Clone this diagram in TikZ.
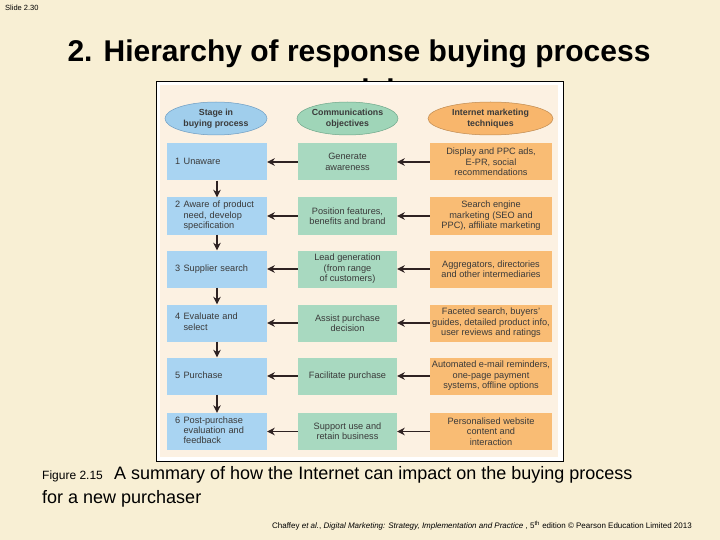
\documentclass[tikz,border=0pt]{standalone}
\usepackage{fontspec}
\setmainfont{Liberation Sans}
\usetikzlibrary{arrows.meta,shapes.geometric}
\definecolor{slidebg}{HTML}{F8EFD4}
\definecolor{figbg}{HTML}{FCF1E2}
\definecolor{bluec}{HTML}{A9D4F2}
\definecolor{bluee}{HTML}{A0CEEC}
\definecolor{blueb}{HTML}{6D9CC2}
\definecolor{greenc}{HTML}{A8D9C0}
\definecolor{greene}{HTML}{9FD5B8}
\definecolor{greenb}{HTML}{6EA78A}
\definecolor{orangec}{HTML}{F9BC74}
\definecolor{orangee}{HTML}{F8B66C}
\definecolor{orangeb}{HTML}{BF8A50}
\definecolor{figtext}{HTML}{3A3A3A}
\definecolor{arrc}{HTML}{2E2222}
\newcommand\figfont{\fontsize{9.2}{10.4}\selectfont}
\newcommand\ellfont{\fontsize{8.8}{10.8}\selectfont\bfseries}
\tikzset{
  box/.style={draw=none, minimum height=37pt, inner sep=1pt, font=\figfont, text=figtext, align=center},
  bluebox/.style={box, fill=bluec, minimum width=100pt, text width=84pt, align=left},
  greenbox/.style={box, fill=greenc, minimum width=99pt},
  orangebox/.style={box, fill=orangec, minimum width=122pt},
  ell/.style={ellipse, inner sep=0pt, minimum height=33pt, font=\ellfont, text=figtext, align=center, line width=0.5pt},
  arr/.style={draw=arrc, line width=1.7pt, -{Stealth[length=7.5pt,width=7.5pt]}},
}
\begin{document}
\begin{tikzpicture}[x=1pt,y=-1pt]
\path[use as bounding box, fill=slidebg] (0,0) rectangle (720,540);
% slide label and title
\node[anchor=base west, inner sep=0pt, font=\fontsize{7.5}{8}\selectfont] (slide) at (5,11) {Slide 2.30};
\node[anchor=base, inner sep=0pt, font=\fontsize{30}{35}\selectfont\bfseries] (title) at (359,62) {2. Hierarchy of response buying process};
\node[anchor=base, inner sep=0pt, font=\fontsize{30}{35}\selectfont\bfseries] (title2) at (359,101) {models};
% figure frame
\draw[black, line width=1pt, fill=white] (156,82) rectangle (563,461);
\fill[figbg] (159.5,85.5) rectangle (557.5,457);
% headings
\node[ell, fill=bluee, draw=blueb, minimum width=102pt] (e1) at (216,118.5) {Stage in\\buying process};
\node[ell, fill=greene, draw=greenb, minimum width=101pt] (e2) at (347.5,118.5) {Communications\\objectives};
\node[ell, fill=orangee, draw=orangeb, minimum width=125pt] (e3) at (490.5,118.5) {Internet marketing\\techniques};
% stage column
\node[bluebox] (b1) at (217,162) {\begin{tabular}{@{}l@{\hspace{3.5pt}}l@{}}1 & Unaware\end{tabular}};
\node[bluebox] (b2) at (217,216) {\begin{tabular}{@{}l@{\hspace{3.5pt}}l@{}}2 & Aware of product\\ & need, develop\\ & specification\end{tabular}};
\node[bluebox] (b3) at (217,269) {\begin{tabular}{@{}l@{\hspace{3.5pt}}l@{}}3 & Supplier search\end{tabular}};
\node[bluebox] (b4) at (217,323) {\begin{tabular}{@{}l@{\hspace{3.5pt}}l@{}}4 & Evaluate and\\ & select\end{tabular}};
\node[bluebox] (b5) at (217,376) {\begin{tabular}{@{}l@{\hspace{3.5pt}}l@{}}5 & Purchase\end{tabular}};
\node[bluebox] (b6) at (217,431.5) {\begin{tabular}{@{}l@{\hspace{3.5pt}}l@{}}6 & Post-purchase\\ & evaluation and\\ & feedback\end{tabular}};
% objectives column
\node[greenbox] (g1) at (347.5,162) {Generate\\awareness};
\node[greenbox] (g2) at (347.5,216) {Position features,\\benefits and brand};
\node[greenbox] (g3) at (347.5,269) {Lead generation\\(from range\\of customers)};
\node[greenbox] (g4) at (347.5,323) {Assist purchase\\decision};
\node[greenbox] (g5) at (347.5,376) {Facilitate purchase};
\node[greenbox] (g6) at (347.5,431.5) {Support use and\\retain business};
% techniques column
\node[orangebox] (o1) at (491,162) {Display and PPC ads,\\E-PR, social\\recommendations};
\node[orangebox] (o2) at (491,216) {Search engine\\marketing (SEO and\\PPC), affiliate marketing};
\node[orangebox] (o3) at (491,269) {Aggregators, directories\\and other intermediaries};
\node[orangebox] (o4) at (491,323) {Faceted search, buyers'\\guides, detailed product info,\\user reviews and ratings};
\node[orangebox] (o5) at (491,376) {Automated e-mail reminders,\\one-page payment\\systems, offline options};
\node[orangebox] (o6) at (491,431.5) {Personalised website\\content and\\interaction};
% connectors
\foreach \i in {1,...,6}{
  \draw[arr] (g\i.west) -- (b\i.east);
  \draw[arr] (o\i.west) -- (g\i.east);
}
\foreach \i/\j in {1/2,2/3,3/4,4/5,5/6}{
  \draw[arr] (b\i.south) -- (b\j.north);
}
% caption
\node[anchor=base west, inner sep=0pt, font=\fontsize{12}{14}\selectfont] (figno) at (42,479) {Figure 2.15};
\node[anchor=base west, inner sep=0pt, font=\fontsize{18}{21}\selectfont] (cap1) at (114,479) {A summary of how the Internet can impact on the buying process};
\node[anchor=base west, inner sep=0pt, font=\fontsize{18}{21}\selectfont] (cap2) at (42,503) {for a new purchaser};
\node[anchor=base east, inner sep=0pt, font=\fontsize{8}{9}\selectfont] (foot) at (692,528) {Chaffey \textit{et al.}, \textit{Digital Marketing: Strategy, Implementation and Practice} , 5\textsuperscript{th} edition © Pearson Education Limited 2013};
\end{tikzpicture}
\end{document}
